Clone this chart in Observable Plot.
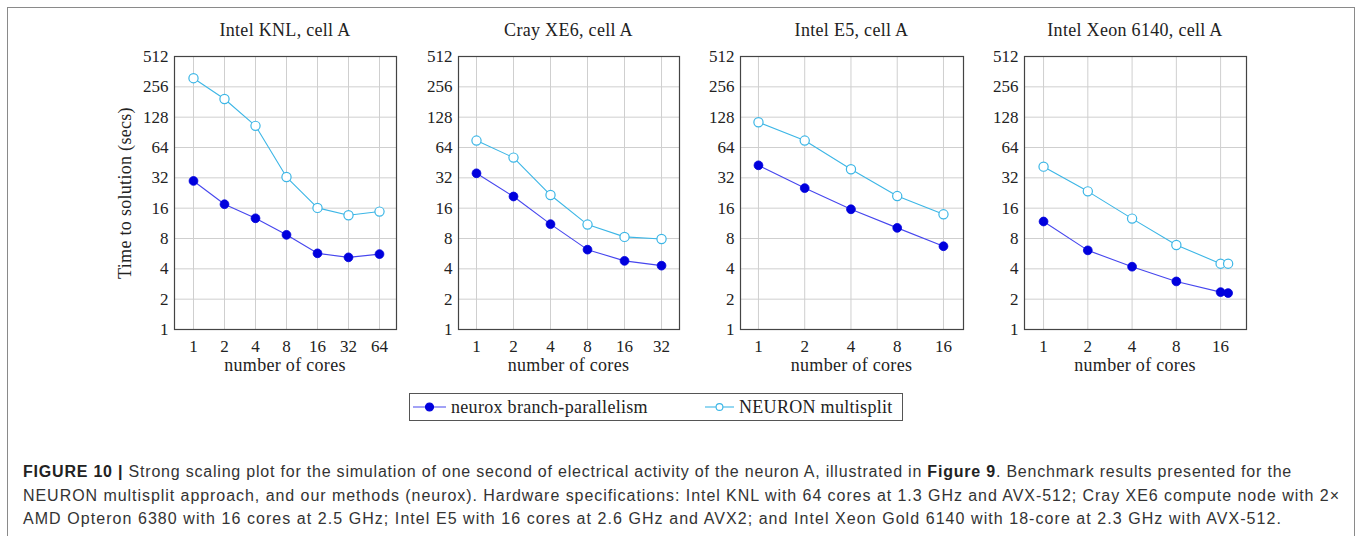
<!DOCTYPE html>
<html>
<head>
<meta charset="utf-8">
<script src="https://cdn.jsdelivr.net/npm/d3@7"></script>
<script src="https://cdn.jsdelivr.net/npm/@observablehq/plot@0.6"></script>
<style>
  html, body { margin: 0; padding: 0; background: #fff; }
  #page { position: relative; width: 1360px; height: 536px; overflow: hidden; }
  .abs { position: absolute; }
  .serif { font-family: "Liberation Serif", serif; color: #222; font-size: 18px; letter-spacing: 0.3px; line-height: 22px; white-space: nowrap; }
  #outer { position: absolute; left: 7px; top: 7px; width: 1346px; height: 600px; border: 1.5px solid #8a8a8a; }
  .capline { position: absolute; left: 23px; font-family: "Liberation Sans", Arial, sans-serif; font-size: 16px; line-height: 20px; color: #333; white-space: nowrap; }
  .capline b { color: #222; }
  #legend { position: absolute; left: 409px; top: 393px; width: 492px; height: 26px; border: 1px solid #555; }
</style>
</head>
<body>
<div id="page">
  <div id="outer"></div>
</div>
<script>
// ---- data ----
const yTicks = [1, 2, 4, 8, 16, 32, 64, 128, 256, 512];
const seriesNames = ["neurox branch-parallelism", "NEURON multisplit"];
const panelTitles = ["Intel KNL, cell A", "Cray XE6, cell A", "Intel E5, cell A", "Intel Xeon 6140, cell A"];

const cores1 = [1, 2, 4, 8, 16, 32, 64];
const knlNeurox = [29.8, 17.5, 12.7, 8.7, 5.7, 5.2, 5.6];
const knlNeuron = [312, 194, 105, 32.6, 16.1, 13.6, 14.8];

const cores2 = [1, 2, 4, 8, 16, 32];
const xe6Neurox = [35.5, 20.9, 11.1, 6.2, 4.8, 4.3];
const xe6Neuron = [75, 50.8, 21.6, 11.0, 8.3, 7.9];

const cores3 = [1, 2, 4, 8, 16];
const e5Neurox = [42.6, 25.3, 15.6, 10.2, 6.7];
const e5Neuron = [114, 75, 38.9, 21.1, 13.9];

const cores4 = [1, 2, 4, 8, 16, 18];
const xeonNeurox = [11.8, 6.1, 4.2, 3.0, 2.35, 2.3];
const xeonNeuron = [41.3, 23.5, 12.6, 6.9, 4.5, 4.5];

const xTicks1 = [1, 2, 4, 8, 16, 32, 64];
const xTicks2 = [1, 2, 4, 8, 16, 32];
const xTicks3 = [1, 2, 4, 8, 16];
const xTicks4 = [1, 2, 4, 8, 16];

const captionLines = [
  "<b>FIGURE 10 |</b> Strong scaling plot for the simulation of one second of electrical activity of the neuron A, illustrated in <b>Figure 9</b>. Benchmark results presented for the",
  "NEURON multisplit approach, and our methods (neurox). Hardware specifications: Intel KNL with 64 cores at 1.3 GHz and AVX-512; Cray XE6 compute node with 2\u00d7",
  "AMD Opteron 6380 with 16 cores at 2.5 GHz; Intel E5 with 16 cores at 2.6 GHz and AVX2; and Intel Xeon Gold 6140 with 18-core at 2.3 GHz with AVX-512."
];

// ---- styling / layout ----
const colNeurox = "#0000dd", colNeuroxLine = "#4646ee";
const colNeuron = "#3cb6e6";

const panels = [
  {title: panelTitles[0], cores: cores1, a: knlNeurox, b: knlNeuron, ticks: xTicks1, domain: [0.654, 93.6], left: 174, w: 222},
  {title: panelTitles[1], cores: cores2, a: xe6Neurox, b: xe6Neuron, ticks: xTicks2, domain: [0.714, 44.8], left: 458, w: 221},
  {title: panelTitles[2], cores: cores3, a: e5Neurox, b: e5Neuron, ticks: xTicks3, domain: [0.764, 21.6], left: 740, w: 223},
  {title: panelTitles[3], cores: cores4, a: xeonNeurox, b: xeonNeuron, ticks: xTicks4, domain: [0.742, 24.0], left: 1024, w: 222}
];

const page = document.getElementById("page");
const mL = 60, mR = 8, mT = 56, mB = 51, H = 380;

panels.forEach((p, i) => {
  const rows = p.cores.map((c, k) => ({c, a: p.a[k], b: p.b[k]}));
  const chart = Plot.plot({
    width: mL + p.w + mR,
    height: H,
    marginLeft: mL, marginRight: mR, marginTop: mT, marginBottom: mB,
    style: {fontFamily: "Liberation Serif, serif", fontSize: "17px", color: "#222", background: "transparent", overflow: "visible"},
    x: {type: "log", base: 2, domain: p.domain, ticks: p.ticks, tickFormat: d => String(d), label: null, tickSize: 0, tickPadding: 10},
    y: {type: "log", base: 2, domain: [1, 512], ticks: yTicks, tickFormat: d => String(d), label: null, tickSize: 0, tickPadding: 6},
    marks: [
      Plot.gridX(p.ticks, {stroke: "#cfcfcf", strokeOpacity: 1, strokeWidth: 1}),
      Plot.gridY(yTicks, {stroke: "#cfcfcf", strokeOpacity: 1, strokeWidth: 1}),
      Plot.axisX(p.ticks, {tickSize: 0, tickPadding: 10, tickFormat: d => String(d), label: null}),
      Plot.axisY(yTicks, {tickSize: 0, tickPadding: 6, tickFormat: d => String(d), label: null}),
      Plot.frame({stroke: "#444", strokeWidth: 1.2}),
      Plot.line(rows, {x: "c", y: "b", stroke: colNeuron, strokeWidth: 1.1}),
      Plot.dot(rows, {x: "c", y: "b", r: 4.6, stroke: colNeuron, fill: "#fff", strokeWidth: 1.2}),
      Plot.line(rows, {x: "c", y: "a", stroke: colNeuroxLine, strokeWidth: 1.1}),
      Plot.dot(rows, {x: "c", y: "a", r: 4.4, fill: colNeurox, stroke: colNeurox, strokeWidth: 0.8})
    ]
  });
  chart.style.position = "absolute";
  chart.style.left = (p.left - mL) + "px";
  chart.style.top = "0px";
  page.appendChild(chart);

  const t = document.createElement("div");
  t.className = "abs serif";
  t.style.left = p.left + "px"; t.style.width = p.w + "px"; t.style.top = "19px"; t.style.textAlign = "center";
  t.textContent = p.title;
  page.appendChild(t);

  const xl = document.createElement("div");
  xl.className = "abs serif";
  xl.style.left = p.left + "px"; xl.style.width = p.w + "px"; xl.style.top = "354px"; xl.style.textAlign = "center";
  xl.textContent = "number of cores";
  page.appendChild(xl);
});

// y label
const yl = document.createElement("div");
yl.className = "abs serif";
yl.style.left = "25px"; yl.style.top = "182px"; yl.style.width = "200px"; yl.style.textAlign = "center";
yl.style.transform = "rotate(-90deg)"; yl.style.transformOrigin = "100px 11px";
yl.textContent = "Time to solution (secs)";
page.appendChild(yl);

// legend
const leg = document.createElement("div");
leg.id = "legend";
page.appendChild(leg);
const lsvg = d3.select(leg).append("svg").attr("width", 492).attr("height", 26).style("position", "absolute").style("left", "0px").style("top", "0px");
const legItems = [
  {name: seriesNames[0], x0: 3, x1: 36, line: colNeuroxLine, fill: colNeurox, stroke: colNeurox, r: 4, tx: 41},
  {name: seriesNames[1], x0: 295, x1: 324, line: colNeuron, fill: "#fff", stroke: colNeuron, r: 3.4, tx: 329}
];
legItems.forEach(it => {
  lsvg.append("line").attr("x1", it.x0).attr("x2", it.x1).attr("y1", 13).attr("y2", 13).attr("stroke", it.line).attr("stroke-width", 1.1);
  lsvg.append("circle").attr("cx", (it.x0 + it.x1) / 2).attr("cy", 13).attr("r", it.r).attr("fill", it.fill).attr("stroke", it.stroke).attr("stroke-width", 1.1);
  lsvg.append("text").attr("x", it.tx).attr("y", 13).attr("dy", "0.33em")
    .style("font-family", "Liberation Serif, serif").style("font-size", "18px").style("letter-spacing", "0.3px").attr("fill", "#222")
    .text(it.name);
});

// caption: three lines, each stretched to the measured line end
const capTops = [462, 486, 509];
const capEnds = [1292, 1340, 1282];
captionLines.forEach((html, k) => {
  const d = document.createElement("div");
  d.className = "capline";
  d.style.top = capTops[k] + "px";
  d.innerHTML = html;
  page.appendChild(d);
  const w = d.getBoundingClientRect().width;
  const n = d.textContent.length;
  const target = capEnds[k] - 23;
  d.style.letterSpacing = ((target - w) / n) + "px";
});
</script>
</body>
</html>
